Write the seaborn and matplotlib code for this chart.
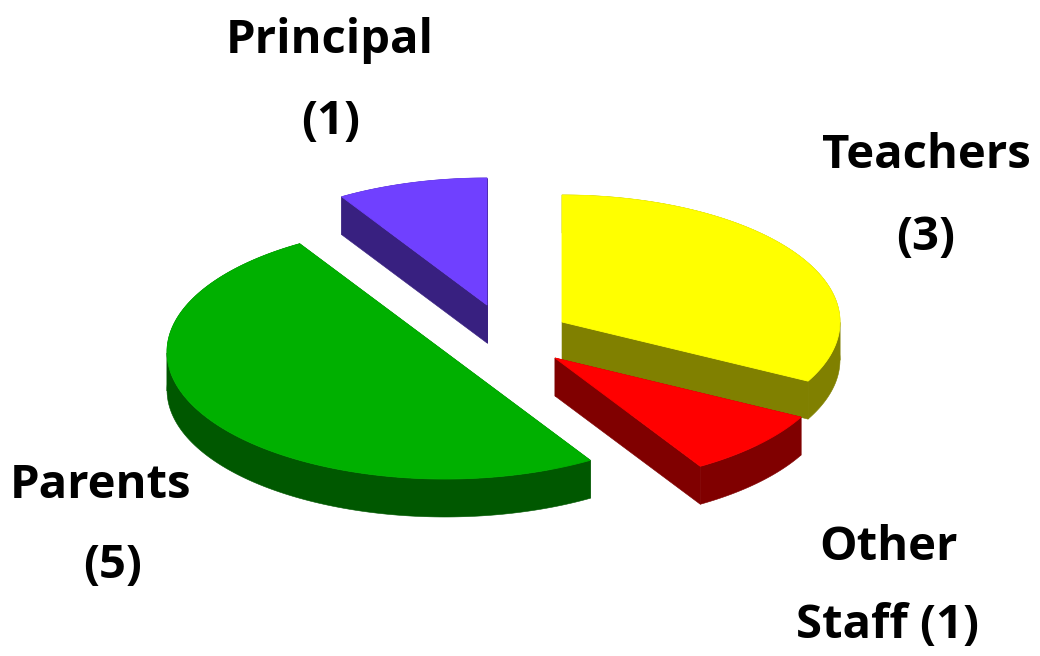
import numpy as np
import matplotlib
matplotlib.use("Agg")
import matplotlib.pyplot as plt
import seaborn as sns

groups = ["Teachers", "Other Staff", "Parents", "Principal"]
counts = [3, 1, 5, 1]
label_lines = ["Teachers", "(3)", "Other", "Staff (1)", "Parents", "(5)", "Principal", "(1)"]

top_colors = ["#FFFF00", "#FF0000", "#00B000", "#7040FF"]
side_colors = ["#808000", "#800000", "#005800", "#382080"]

# where each exploded slice's point sits, in pixels
apex_x = [562, 555, 445, 487]
apex_y = [322, 358, 352, 305]
line_x = [926, 926, 888, 888, 101, 113, 330, 331]
line_y = [156, 238, 548, 626, 486, 566, 41, 122]

rx, ry = 278, 127
depth = 38

sns.set_theme(style="white")
plt.rcParams['font.family'] = ['Open Sans', 'DejaVu Sans']


def view_angle(deg):
    # the old 3d view squeezes the pie, so angles are not quite even on screen
    t = np.radians(deg)
    return deg - 8.0 * np.sin(2 * t) + 5.3 * np.sin(4 * t)


def slice_arc(start, end, x0, y0):
    t = np.radians(view_angle(np.linspace(start, end, 200)))
    return x0 + rx * np.sin(t), y0 - ry * np.cos(t)


def draw_side(xs, ys, color):
    # one strip going along the edge and back along the same edge lower down
    ax.fill(np.r_[xs, xs[::-1]], np.r_[ys, ys[::-1] + depth], color=color, lw=0.4)


def draw_arc_side(xs, ys, color):
    # cut where the arc turns back in x, or the strip crosses itself
    cuts = sorted({0, int(xs.argmin()), int(xs.argmax()), len(xs) - 1})
    for a, b in zip(cuts[:-1], cuts[1:]):
        draw_side(xs[a:b + 1], ys[a:b + 1], color)


fig, ax = plt.subplots(figsize=(10.4, 6.56), dpi=100)
fig.subplots_adjust(0, 0, 1, 1)

angles = np.r_[0, np.cumsum(counts)] / sum(counts) * 360

# back slices first
for i in [3, 2, 0, 1]:
    x0, y0 = apex_x[i], apex_y[i]
    xs, ys = slice_arc(angles[i], angles[i + 1], x0, y0)
    draw_arc_side(xs, ys, side_colors[i])
    draw_side(np.array([x0, xs[0]]), np.array([y0, ys[0]]), side_colors[i])
    draw_side(np.array([x0, xs[-1]]), np.array([y0, ys[-1]]), side_colors[i])
    ax.fill(np.r_[x0, xs], np.r_[y0, ys], color=top_colors[i], lw=0.6)

for text, x, y in zip(label_lines, line_x, line_y):
    ax.text(x, y, text, ha="center", va="center",
            fontsize=34, fontweight="bold", color="black")

ax.set_xlim(0, 1040)
ax.set_ylim(656, 0)
ax.axis("off")

fig.savefig("out.png", dpi=100, facecolor="white")
